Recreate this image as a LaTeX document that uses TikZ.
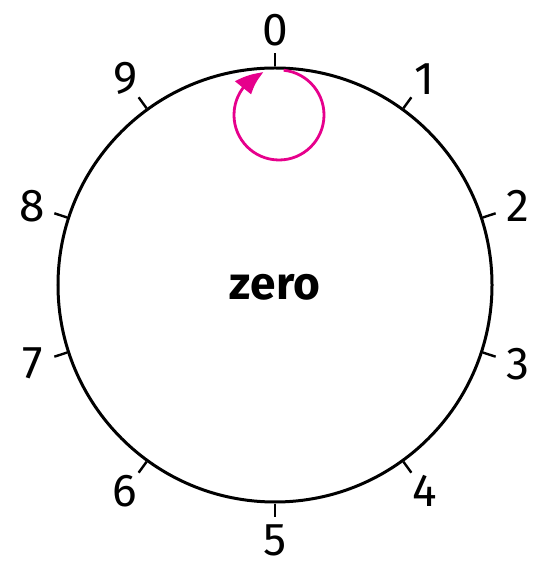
\documentclass[tikz,border=0pt]{standalone}
\usepackage{fontspec}
\setmainfont{Fira Sans}
\usetikzlibrary{arrows.meta,bending}
\definecolor{loopmag}{RGB}{230,0,140}
\begin{document}
\begin{tikzpicture}[x=0.5pt,y=0.5pt]
    \tikzset{
      dial/.style={draw,circle,line width=1.5pt,minimum size=217pt,inner sep=0pt},
      tick/.style={line width=1.2pt},
      num/.style={inner sep=0pt,font=\fontsize{23}{23}\selectfont},
      word/.style={font=\fontsize{23}{23}\selectfont\bfseries},
      selfloop/.style={draw=loopmag,line width=1.4pt,
        -{Triangle[length=13pt,width=10pt,bend]}}
    }
    \useasboundingbox (-275,-280) rectangle (257,285);
    \node[dial] (dial) at (0,0) {};
    \foreach \i in {0,...,9}{
      \pgfmathsetmacro{\a}{90-36*\i}
      \coordinate (t\i) at (\a:232);
      \draw[tick] (dial.\a) -- (t\i);
      \node[num] (n\i) at (\a:255) {\i};
    }
    \node[word] (name) at (0,-2) {zero};
    % loop back to the same state
    \coordinate (c) at (4,170);
    \draw[selfloop] (c) ++(84:45) arc[start angle=84,end angle=-250,radius=45];
  \end{tikzpicture}
\end{document}
